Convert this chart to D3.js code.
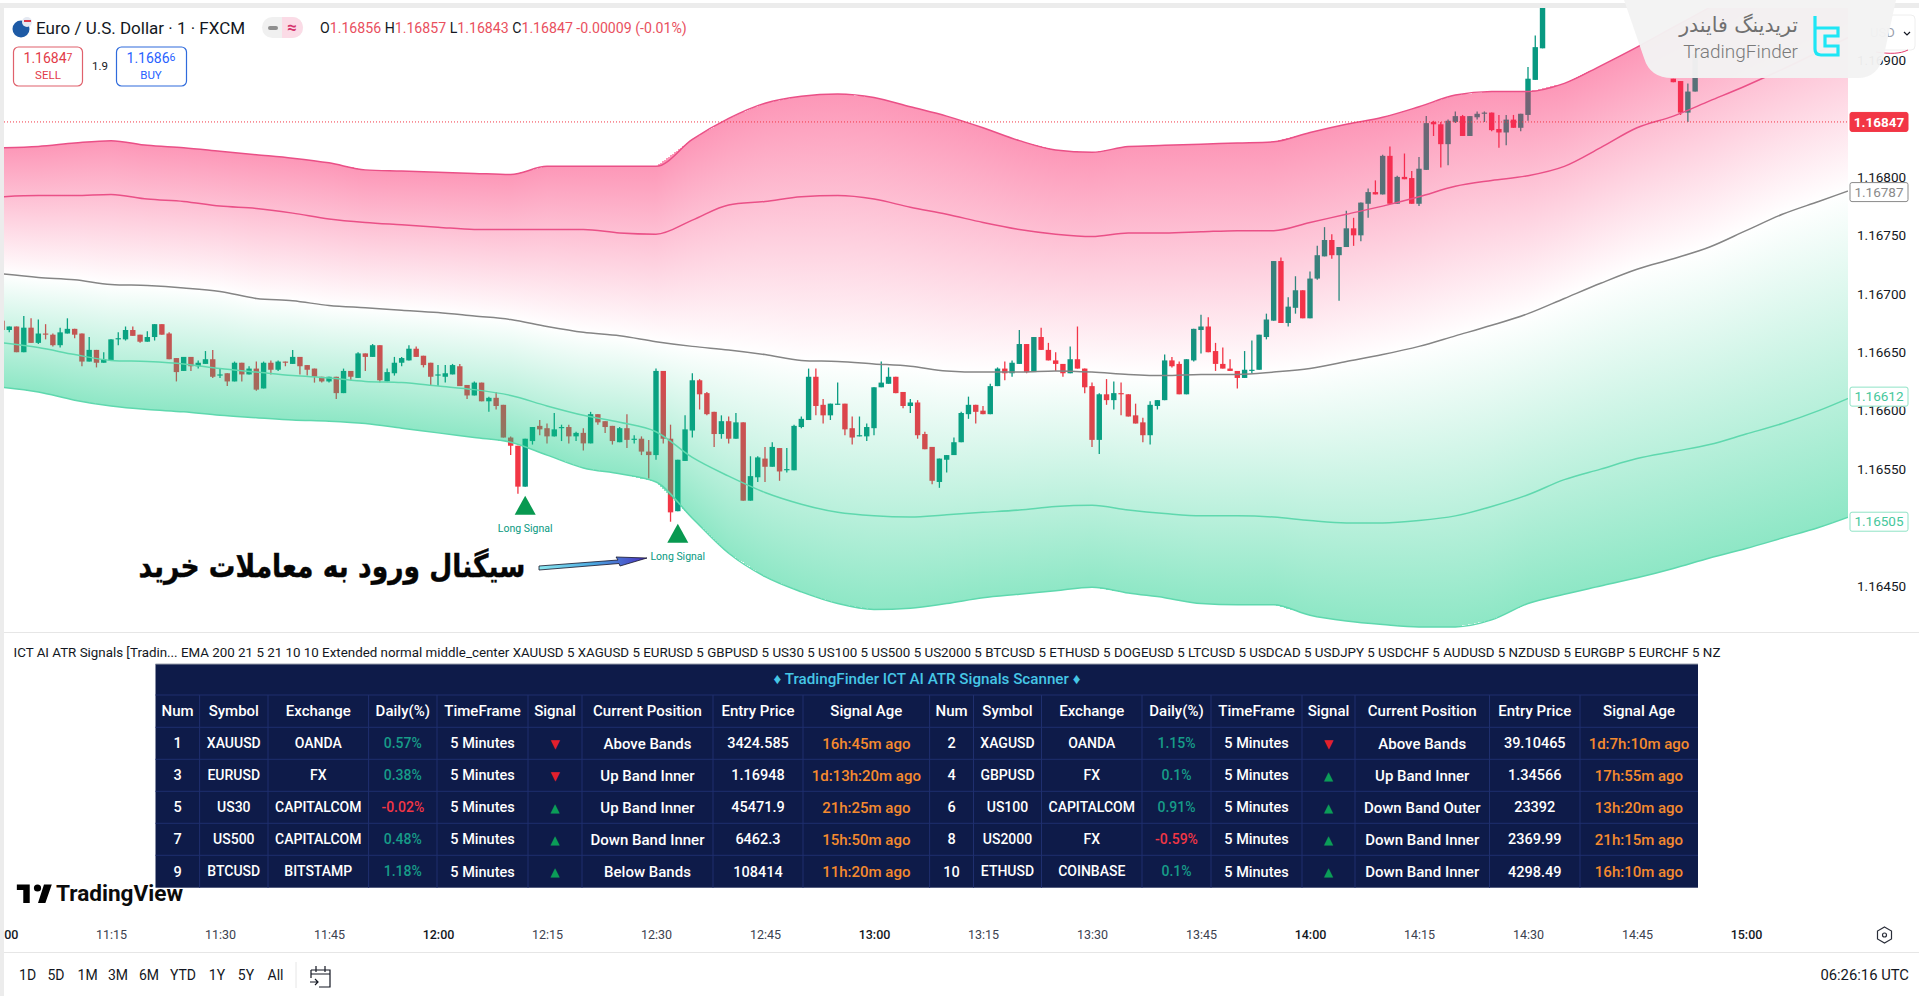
<!DOCTYPE html>
<html lang="en">
<head>
<meta charset="UTF-8" />
<title>EURUSD ICT AI ATR Signals</title>
<script src="https://d3js.org/d3.v7.min.js"></script>
<style>
  html, body { margin: 0; background: #fff; overflow: hidden; }
  svg { display: block; }
  text { font-family: Roboto, sans-serif; fill: #131722; }
</style>
</head>
<body>
<svg id="chart" width="1919" height="996"></svg>
<script>
// prices are stored in 1/100000 above 1 (16847 -> 1.16847), first bar is 11:00, one bar per minute
// null = bar sits off the top of the chart or behind the watermark
const H = Array(17).fill(null);
const opens = [
  16677,16669,16672,16650,16671,16658,16666,16665,16656,16666,
  16670,16666,16642,16652,16641,16643,16661,16661,16669,16665,
  16659,16663,16674,16666,16645,16634,16646,16638,16640,16644,
  16630,16632,16625,16641,16631,16636,16619,16641,16635,16642,
  16640,16646,16639,16636,16629,16625,16629,16615,16634,16628,
  16649,16646,16656,16625,16632,16641,16643,16653,16647,16641,
  16630,16629,16631,16638,16622,16613,16624,16608,16611,16605,
  16577,16570,16535,16574,16587,16585,16578,16585,16586,16578,
  16581,16572,16597,16591,16587,16573,16585,16575,16576,16565,
  16562,16634,16576,16514,16557,16583,16626,16615,16599,16580,
  16591,16576,16590,16523,16543,16559,16552,16568,16549,16549,
  16586,16592,16629,16605,16596,16605,16606,16585,16578,16578,
  16585,16620,16623,16629,16616,16604,16607,16580,16569,16539,
  16558,16562,16573,16597,16605,16600,16597,16621,16636,16632,
  16640,16657,16633,16663,16652,16643,16640,16632,16644,16636,
  16621,16575,16614,16609,16615,16614,16596,16590,16579,16604,
  16609,16643,16640,16614,16643,16669,16672,16651,16640,16636,
  16634,16628,16634,16635,16663,16677,16728,16675,16688,16703,
  16679,16713,16732,16746,16733,16740,16756,16750,16777,16787,
  16785,16818,16777,16800,16799,16777,16806,16847,16845,16828,
  16847,16852,16835,16851,16854,16855,16841,16838,16849,16842,
  16853,16883,16910, ...H, 16884,16882,16855,16873];
const highs = [
  16677,16672,16672,16681,16679,16678,16674,16666,16671,16679,
  16670,16666,16663,16652,16650,16661,16667,16672,16672,16665,
  16668,16674,16674,16667,16645,16646,16646,16643,16651,16652,
  16636,16632,16642,16641,16638,16642,16642,16643,16643,16642,
  16652,16646,16639,16636,16629,16629,16629,16636,16634,16650,
  16649,16657,16656,16636,16646,16646,16656,16655,16647,16641,
  16639,16639,16640,16640,16622,16625,16624,16612,16616,16605,
  16578,16570,16576,16586,16592,16589,16598,16588,16588,16582,
  16585,16599,16597,16591,16587,16586,16597,16579,16578,16575,
  16636,16634,16588,16558,16596,16632,16627,16616,16599,16596,
  16595,16598,16590,16561,16561,16569,16573,16568,16568,16588,
  16595,16636,16636,16610,16606,16624,16606,16595,16595,16589,
  16620,16642,16637,16629,16616,16610,16609,16582,16569,16559,
  16562,16577,16599,16612,16605,16604,16623,16637,16642,16643,
  16669,16657,16663,16671,16658,16650,16640,16655,16672,16636,
  16624,16615,16627,16625,16624,16614,16606,16594,16608,16609,
  16648,16646,16642,16644,16670,16682,16680,16658,16654,16644,
  16634,16651,16660,16665,16683,16728,16731,16697,16715,16703,
  16719,16741,16757,16751,16740,16771,16765,16778,16790,16797,
  16819,16826,16801,16820,16805,16817,16852,16848,16847,16849,
  16856,16853,16852,16856,16856,16855,16853,16853,16853,16854,
  16894,16921,16960, ...H, 16884,16882,16880,16905];
const lows = [
  16669,16667,16650,16650,16658,16657,16661,16655,16654,16666,
  16662,16638,16642,16637,16641,16643,16656,16660,16664,16658,
  16659,16660,16665,16644,16625,16634,16634,16636,16640,16628,
  16628,16621,16625,16625,16631,16617,16619,16631,16634,16638,
  16640,16631,16630,16624,16624,16624,16610,16615,16626,16628,
  16634,16646,16624,16625,16630,16638,16643,16646,16637,16622,
  16621,16624,16631,16621,16610,16613,16608,16599,16601,16577,
  16562,16529,16535,16571,16579,16572,16578,16574,16572,16574,
  16566,16572,16588,16581,16571,16573,16568,16572,16562,16542,
  16558,16572,16505,16514,16557,16577,16601,16596,16569,16576,
  16572,16576,16523,16523,16539,16539,16552,16540,16547,16549,
  16585,16592,16596,16589,16592,16605,16579,16571,16578,16574,
  16579,16620,16623,16615,16602,16598,16576,16567,16537,16534,
  16547,16562,16573,16593,16589,16597,16597,16621,16626,16629,
  16640,16632,16633,16652,16643,16634,16629,16632,16636,16615,
  16569,16563,16605,16601,16596,16595,16589,16573,16571,16601,
  16609,16637,16614,16614,16642,16649,16650,16634,16636,16634,
  16619,16628,16632,16635,16661,16677,16675,16672,16683,16679,
  16679,16712,16732,16730,16694,16740,16741,16745,16765,16785,
  16785,16777,16777,16798,16777,16775,16806,16835,16808,16810,
  16846,16835,16835,16849,16847,16839,16825,16827,16842,16839,
  16848,16883,16910, ...H, 16881,16853,16847,16873];
const closes = [
  16669,16672,16650,16671,16658,16666,16665,16656,16667,16670,
  16665,16642,16652,16641,16644,16661,16662,16669,16664,16659,
  16663,16674,16665,16644,16633,16646,16638,16641,16644,16629,
  16631,16625,16641,16631,16636,16618,16641,16635,16642,16641,
  16646,16638,16635,16629,16625,16629,16615,16634,16629,16649,
  16646,16656,16626,16633,16641,16645,16653,16646,16639,16629,
  16631,16632,16639,16621,16613,16624,16608,16611,16604,16577,
  16570,16535,16576,16586,16584,16578,16584,16586,16578,16581,
  16572,16597,16590,16586,16574,16585,16575,16576,16565,16562,
  16634,16576,16513,16558,16584,16626,16614,16597,16580,16591,
  16576,16590,16523,16544,16560,16552,16569,16548,16550,16587,
  16593,16629,16604,16596,16606,16606,16584,16577,16579,16586,
  16620,16624,16629,16615,16604,16607,16579,16567,16540,16559,
  16562,16573,16598,16605,16599,16597,16621,16636,16632,16641,
  16657,16633,16663,16652,16643,16640,16632,16644,16636,16620,
  16575,16614,16609,16615,16614,16595,16589,16579,16605,16609,
  16643,16638,16614,16644,16670,16672,16650,16640,16636,16634,
  16628,16635,16635,16665,16678,16728,16675,16689,16703,16679,
  16713,16733,16746,16733,16740,16756,16750,16778,16787,16785,
  16818,16777,16800,16798,16777,16807,16846,16845,16828,16848,
  16852,16835,16852,16854,16855,16840,16838,16849,16842,16854,
  16884,16911,16960, ...H, 16881,16855,16873,16905];

// ATR bands and EMA, one reading every 5 minutes from 11:00 to 15:15
const upperOuter = [16825,16826,16829,16831,16827,16825,16822,16819,16816,16812,16806,16805,16804,16803,16802,16809,16809,16809,16809,16832,16850,16863,16869,16871,16868,16860,16852,16842,16831,16823,16821,16826,16827,16828,16829,16830,16838,16845,16851,16860,16870,16873,16873,16880,16895,16911,16928,16945,16962,16977,16993,17007];
const upperInner = [16783,16784,16784,16785,16781,16779,16775,16773,16769,16764,16761,16759,16757,16755,16755,16755,16755,16752,16751,16763,16776,16779,16783,16784,16781,16774,16768,16761,16755,16751,16749,16752,16752,16753,16754,16754,16761,16768,16775,16783,16792,16797,16801,16809,16825,16842,16852,16865,16878,16892,16907,16922];
const emaLine = [16717,16714,16712,16708,16707,16705,16702,16696,16694,16690,16688,16686,16684,16681,16678,16672,16667,16664,16659,16655,16652,16648,16643,16642,16640,16638,16634,16633,16633,16634,16633,16631,16630,16631,16631,16633,16636,16642,16648,16655,16664,16673,16683,16696,16709,16721,16730,16740,16754,16768,16779,16790];
const lowerInner = [16658,16654,16648,16643,16642,16640,16636,16633,16630,16628,16625,16624,16621,16618,16613,16604,16596,16590,16582,16560,16544,16530,16520,16513,16510,16509,16511,16513,16515,16518,16519,16515,16512,16510,16510,16509,16506,16504,16504,16506,16510,16518,16528,16541,16550,16559,16565,16571,16580,16589,16600,16613];
const lowerOuter = [16620,16616,16609,16604,16601,16599,16596,16594,16592,16591,16589,16585,16581,16577,16573,16562,16551,16546,16539,16508,16478,16458,16445,16435,16430,16431,16435,16440,16443,16446,16449,16444,16440,16435,16434,16434,16425,16420,16417,16415,16415,16421,16435,16443,16450,16457,16465,16474,16482,16491,16500,16511];

const priceTicks = [1.169, 1.168, 1.1675, 1.167, 1.1665, 1.166, 1.1655, 1.1645];
const timeLabels = ['11:00','11:15','11:30','11:45','12:00','12:15','12:30','12:45','13:00','13:15','13:30','13:45','14:00','14:15','14:30','14:45','15:00'];
const signalBars = [72, 93];            // bar index of the two long signals
const rangeButtons = ['1D','5D','1M','3M','6M','YTD','1Y','5Y','All'];

// scanner table, numbered 1..10
const tableHeads = ['Num','Symbol','Exchange','Daily(%)','TimeFrame','Signal','Current Position','Entry Price','Signal Age'];
const symbols = ['XAUUSD','XAGUSD','EURUSD','GBPUSD','US30','US100','US500','US2000','BTCUSD','ETHUSD'];
const exchanges = ['OANDA','OANDA','FX','FX','CAPITALCOM','CAPITALCOM','CAPITALCOM','FX','BITSTAMP','COINBASE'];
const daily = ['0.57%','1.15%','0.38%','0.1%','-0.02%','0.91%','0.48%','-0.59%','1.18%','0.1%'];
const signals = ['▼','▼','▼','▲','▲','▲','▲','▲','▲','▲'];
const positions = ['Above Bands','Above Bands','Up Band Inner','Up Band Inner','Up Band Inner','Down Band Outer','Down Band Inner','Down Band Inner','Below Bands','Down Band Inner'];
const entryPrices = ['3424.585','39.10465','1.16948','1.34566','45471.9','23392','6462.3','2369.99','108414','4298.49'];
const signalAges = ['16h:45m ago','1d:7h:10m ago','1d:13h:20m ago','17h:55m ago','21h:25m ago','13h:20m ago','15h:50m ago','21h:15m ago','11h:20m ago','16h:10m ago'];

const UP = '#089981', DOWN = '#f23645';
const svg = d3.select('#chart');
const defs = svg.append('defs');
const pt = v => 1 + v / 1e5;
const minuteOf = s => +s.slice(0, 2) * 60 + +s.slice(3);

const x = d3.scaleLinear().domain([675, 900]).range([111, 1746]);
const y = d3.scaleLinear().domain([1.169, 1.1645]).range([60, 586]);
const barX = i => x(660 + i);
const bandX = d3.range(upperOuter.length).map(i => 660 + i * 5);

defs.append('clipPath').attr('id', 'plot').append('rect')
  .attr('x', 4).attr('y', 8).attr('width', 1844).attr('height', 624);

function grad(id, stops) {
  const g = defs.append('linearGradient').attr('id', id).attr('x1', 0).attr('x2', 0).attr('y1', 0).attr('y2', 1);
  stops.forEach(s => g.append('stop').attr('offset', s[0]).attr('stop-color', s[1]).attr('stop-opacity', s[2]));
}
grad('pinkFill', [[0, 'rgb(250,30,100)', 0.46], [1, 'rgb(250,30,100)', 0]]);
grad('greenFill', [[0, 'rgb(15,204,133)', 0], [1, 'rgb(15,204,133)', 0.47]]);

const plot = svg.append('g').attr('clip-path', 'url(#plot)');

// candles go under the band fill, that is why they change tint in the zones
const bars = d3.range(opens.length).filter(i => opens[i] !== null);
const color = i => closes[i] >= opens[i] ? UP : DOWN;
plot.append('g').selectAll('line').data(bars).enter().append('line')
  .attr('x1', i => barX(i)).attr('x2', i => barX(i))
  .attr('y1', i => y(pt(highs[i]))).attr('y2', i => y(pt(lows[i])))
  .attr('stroke', color).attr('stroke-width', 1.3);
plot.append('g').selectAll('rect').data(bars).enter().append('rect')
  .attr('x', i => barX(i) - 2.7).attr('width', 5.4)
  .attr('y', i => y(pt(Math.max(opens[i], closes[i]))))
  .attr('height', i => Math.max(1, Math.abs(y(pt(opens[i])) - y(pt(closes[i])))))
  .attr('fill', color);

// gradient runs from band to ema per column, so it gets cut into thin slices
const at = arr => d3.scaleLinear().domain(bandX).range(arr);
const slicePx = d3.range(4, 1848, 2);
function slices(topArr, botArr, fill) {
  const top = at(topArr), bot = at(botArr);
  plot.append('g').attr('shape-rendering', 'crispEdges').selectAll('rect').data(slicePx).enter().append('rect')
    .attr('x', d => d).attr('width', 2)
    .attr('y', d => y(pt(top(x.invert(d + 1)))))
    .attr('height', d => y(pt(bot(x.invert(d + 1)))) - y(pt(top(x.invert(d + 1)))))
    .attr('fill', fill);
}
slices(upperOuter, emaLine, 'url(#pinkFill)');
slices(emaLine, lowerOuter, 'url(#greenFill)');

const bandLine = d3.line().x((d, i) => x(bandX[i])).y(d => y(pt(d))).curve(d3.curveMonotoneX);
[[upperOuter, '#ea5087'], [upperInner, '#ea5087'], [emaLine, '#858585'], [lowerInner, '#5fd8ae'], [lowerOuter, '#5fd8ae']].forEach(b => {
  plot.append('path').attr('d', bandLine(b[0])).attr('fill', 'none').attr('stroke', b[1]).attr('stroke-width', 1.5);
});

// last price line
plot.append('line').attr('x1', 4).attr('x2', 1848).attr('y1', y(1.16847)).attr('y2', y(1.16847))
  .attr('stroke', DOWN).attr('stroke-width', 1).attr('stroke-dasharray', '1 2');

// long signals, placed under the low of the bar before
signalBars.forEach(b => {
  const cx = barX(b);
  const top = y(pt(lows[b - 1])) + 2;
  plot.append('path').attr('d', `M${cx},${top} L${cx + 10.5},${top + 19} L${cx - 10.5},${top + 19} Z`).attr('fill', '#089950');
  plot.append('text').attr('x', cx).attr('y', top + 36).attr('text-anchor', 'middle')
    .attr('font-size', 10.5).style('fill', '#089981').text('Long Signal');
});

// price axis
const priceAxis = svg.append('g').attr('transform', 'translate(1855,0)')
  .call(d3.axisRight(y).tickValues(priceTicks).tickSize(0).tickPadding(2).tickFormat(d3.format('.5f')));
priceAxis.select('.domain').remove();
priceAxis.selectAll('text').attr('font-family', 'Roboto').attr('font-size', 13.5).style('fill', '#131722');

function priceTag(v, fill, stroke, txt, bold) {
  const g = svg.append('g');
  g.append('rect').attr('x', 1850).attr('y', y(v) - 9.5).attr('width', 58).attr('height', 19).attr('rx', 2)
    .attr('fill', fill).attr('stroke', stroke);
  g.append('text').attr('x', 1879).attr('y', y(v)).attr('dy', '0.35em').attr('text-anchor', 'middle')
    .attr('font-size', 13.5).attr('font-weight', bold ? 700 : 400).style('fill', txt).text(v.toFixed(5));
}
priceTag(1.16847, DOWN, DOWN, '#fff', true);
priceTag(1.16787, '#fff', '#8a8a8a', '#8a8a8a');
priceTag(1.16612, '#fff', '#8fe3c6', '#45c79b');
priceTag(1.16505, '#fff', '#8fe3c6', '#45c79b');

// time axis
const timeAxis = svg.append('g').attr('transform', 'translate(0,928)')
  .call(d3.axisBottom(x).tickValues(timeLabels.map(minuteOf)).tickSize(0).tickPadding(2)
    .tickFormat(m => timeLabels[(m - 660) / 15]));
timeAxis.select('.domain').remove();
timeAxis.selectAll('text').attr('font-family', 'Roboto').attr('font-size', 12.5)
  .attr('font-weight', m => m % 60 === 0 ? 500 : 400)
  .style('fill', m => m % 60 === 0 ? '#131722' : '#3c4150');

// frame
svg.append('rect').attr('x', 0).attr('y', 3).attr('width', 1919).attr('height', 5).attr('fill', '#ececec');
svg.append('rect').attr('x', 0).attr('y', 3).attr('width', 4).attr('height', 993).attr('fill', '#ececec');
svg.append('line').attr('x1', 4).attr('x2', 1919).attr('y1', 632.5).attr('y2', 632.5).attr('stroke', '#e6e6e6');
svg.append('line').attr('x1', 4).attr('x2', 1919).attr('y1', 952.5).attr('y2', 952.5).attr('stroke', '#e6e6e6');

function label(px, py, str, size, fill, anchor, weight) {
  return svg.append('text').attr('x', px).attr('y', py).attr('dy', '0.35em')
    .attr('text-anchor', anchor || 'start').attr('font-size', size)
    .attr('font-weight', weight || 400).style('fill', fill || '#131722').text(str);
}

// chart header
svg.append('circle').attr('cx', 21).attr('cy', 29).attr('r', 8.5).attr('fill', '#1d5aa5');
svg.append('circle').attr('cx', 27).attr('cy', 22).attr('r', 5).attr('fill', '#e5e9f2');
svg.append('rect').attr('x', 24).attr('y', 20).attr('width', 7).attr('height', 2).attr('fill', '#d8384a');
label(36, 28, 'Euro / U.S. Dollar · 1 · FXCM', 17);
svg.append('rect').attr('x', 262).attr('y', 17).attr('width', 41).attr('height', 21).attr('rx', 10.5).attr('fill', '#f0f0f0');
svg.append('path').attr('d', 'M282,17 h10.5 a10.5,10.5 0 0 1 0,21 h-10.5 z').attr('fill', '#fbdbe6');
svg.append('rect').attr('x', 268).attr('y', 26).attr('width', 10).attr('height', 4).attr('rx', 2).attr('fill', '#8f8f8f');
label(292, 27, '≈', 17, '#d6336c', 'middle', 700);

const ohlc = svg.append('text').attr('x', 320).attr('y', 28).attr('dy', '0.35em').attr('font-size', 14.15);
[['O', 1], ['1.16856 ', 0], ['H', 1], ['1.16857 ', 0], ['L', 1], ['1.16843 ', 0], ['C', 1], ['1.16847 -0.00009 (-0.01%)', 0]].forEach(p => {
  ohlc.append('tspan').style('fill', p[1] ? '#131722' : '#e9505e').text(p[0]);
});

// sell / buy, the last digit of the quote is printed small and raised
function quote(cx, big, small, fill) {
  const t = label(cx, 58, null, 14, fill, 'middle');
  t.append('tspan').text(big);
  t.append('tspan').attr('font-size', 10.5).attr('dy', -2).text(small);
}
svg.append('rect').attr('x', 13.5).attr('y', 47).attr('width', 69).attr('height', 39).attr('rx', 5).attr('fill', '#fff').attr('stroke', '#e0616c').attr('stroke-width', 1.2);
quote(48, '1.1684', '7', '#e23b49');
label(48, 75, 'SELL', 11.5, '#e23b49', 'middle');
label(100, 66, '1.9', 11.5, '#131722', 'middle');
svg.append('rect').attr('x', 116.5).attr('y', 47).attr('width', 70).attr('height', 39).attr('rx', 5).attr('fill', '#fff').attr('stroke', '#2f6bdc').attr('stroke-width', 1.2);
quote(151, '1.1686', '6', '#2962ff');
label(151, 75, 'BUY', 11.5, '#2962ff', 'middle');

// persian caption with arrow
const arrowGrad = defs.append('linearGradient').attr('id', 'arrowBody').attr('x1', 0).attr('x2', 1).attr('y1', 0).attr('y2', 0);
arrowGrad.append('stop').attr('offset', 0).attr('stop-color', '#8be8f0');
arrowGrad.append('stop').attr('offset', 0.5).attr('stop-color', '#4aa8e0');
arrowGrad.append('stop').attr('offset', 1).attr('stop-color', '#4a2fc0');
svg.append('path').attr('d', 'M539,566 L618,560 L616,557 L647,558 L620,566 L619,563.5 L539,570 Z')
  .attr('fill', 'url(#arrowBody)').attr('stroke', '#15152a').attr('stroke-width', 0.8);
svg.append('text').attr('transform', 'translate(332,566) scale(0.885,1.05)').attr('dy', '0.35em').attr('text-anchor', 'middle')
  .attr('direction', 'rtl').style('font-family', '"DejaVu Sans"').attr('font-weight', 700)
  .attr('font-size', 30).style('fill', '#050505').style('stroke', '#050505').style('stroke-width', 0.4)
  .text('سیگنال ورود به معاملات خرید');

// indicator status line
label(13.5, 652, 'ICT AI ATR Signals [Tradin... EMA 200 21 5 21 10 10 Extended normal middle_center XAUUSD 5 XAGUSD 5 EURUSD 5 GBPUSD 5 US30 5 US100 5 US500 5 US2000 5 BTCUSD 5 ETHUSD 5 DOGEUSD 5 LTCUSD 5 USDCAD 5 USDJPY 5 USDCHF 5 AUDUSD 5 NZDUSD 5 EURGBP 5 EURCHF 5 NZ', 13.35);

// scanner table
const colEdges = [155.5, 199.6, 268, 368.6, 437, 528, 582, 713, 803, 929.6, 973.5, 1041.5, 1142, 1211, 1302, 1355, 1489.5, 1580, 1698];
const rowEdges = [695, 727.3, 759.3, 791.3, 823.3, 855.3, 887.7];
const tableG = svg.append('g');
tableG.append('rect').attr('x', 155.5).attr('y', 664).attr('width', 1542.5).attr('height', 223.7).attr('fill', '#0e1b49');
tableG.append('line').attr('x1', 155.5).attr('x2', 1698).attr('y1', 664).attr('y2', 664).attr('stroke', '#9aa0ac').attr('stroke-width', 1);
tableG.selectAll('.hl').data(rowEdges.slice(0, -1)).enter().append('line')
  .attr('x1', 155.5).attr('x2', 1698).attr('y1', d => d).attr('y2', d => d).attr('stroke', '#1f2f6e');
tableG.selectAll('.vl').data(colEdges.slice(1, -1)).enter().append('line')
  .attr('x1', d => d).attr('x2', d => d).attr('y1', 695).attr('y2', 887.7).attr('stroke', '#1f2f6e');

label(927, 679, '♦ TradingFinder ICT AI ATR Signals Scanner ♦', 15.2, '#46c6e6', 'middle', 500);

const midX = i => (colEdges[i] + colEdges[i + 1]) / 2;
[0, 9].forEach(start => tableHeads.forEach((h, c) => {
  label(midX(start + c), 711, h, 15, '#fff', 'middle', 500);
}));
symbols.forEach((s, n) => {
  const start = n % 2 ? 9 : 0;
  const row = Math.floor(n / 2);
  const ry = (rowEdges[row + 1] + rowEdges[row + 2]) / 2;
  const neg = daily[n][0] === '-';
  label(midX(start), ry, n + 1, 14.5, '#fff', 'middle', 500);
  label(midX(start + 1), ry, s, 14, '#fff', 'middle', 500);
  label(midX(start + 2), ry, exchanges[n], 14, '#fff', 'middle', 500);
  label(midX(start + 3), ry, daily[n], 14, neg ? '#f23645' : '#179c88', 'middle', 500);
  label(midX(start + 4), ry, '5 Minutes', 14.5, '#fff', 'middle', 500);
  label(midX(start + 5), ry, signals[n], 12, signals[n] === '▲' ? '#0b9d58' : '#e3202c', 'middle').style('font-family', '"DejaVu Sans"');
  label(midX(start + 6), ry, positions[n], 15, '#fff', 'middle', 500);
  label(midX(start + 7), ry, entryPrices[n], 14.5, '#fff', 'middle', 500);
  label(midX(start + 8), ry, signalAges[n], 15, '#f58a2e', 'middle', 500);
});

// tradingview logo sits over the table corner
svg.append('path').attr('transform', 'translate(15,879) scale(0.92)')
  .attr('d', 'M16 6H2v6h7v14h7V6z M33 26h-8l6.5-20H40l-7 20z').attr('fill', '#000');
svg.append('circle').attr('cx', 37.5).attr('cy', 888).attr('r', 3.6).attr('fill', '#000');
label(56, 893, 'TradingView', 22.6, '#0b0b0b', 'start', 700);

// bottom bar
const rangeX = [27.6, 56, 87.6, 118, 149, 183, 217, 246, 275.5];
rangeButtons.forEach((b, i) => label(rangeX[i], 975, b, 14, '#131722', 'middle'));
svg.append('line').attr('x1', 296).attr('x2', 296).attr('y1', 962).attr('y2', 988).attr('stroke', '#e6e6e6');
svg.append('path').attr('d', 'M311,970 h19 v17 h-11 M311,970 v8 M316,966 v6 M325,966 v6 M311,974 h19 M310,982 h8 M315,979 l3,3 l-3,3')
  .attr('fill', 'none').attr('stroke', '#131722').attr('stroke-width', 1.2);
label(1909, 975, '06:26:16 UTC', 14.8, '#131722', 'end');
svg.append('path').attr('d', 'M1884.5,927 L1891.5,931 L1891.5,939 L1884.5,943 L1877.5,939 L1877.5,931 Z').attr('fill', 'none').attr('stroke', '#2a2e39').attr('stroke-width', 1.2);
svg.append('circle').attr('cx', 1884.5).attr('cy', 935).attr('r', 2).attr('fill', 'none').attr('stroke', '#2a2e39').attr('stroke-width', 1.2);

// currency dropdown behind the watermark
svg.append('rect').attr('x', 1850).attr('y', 15).attr('width', 65).attr('height', 35).attr('rx', 4).attr('fill', '#fff').attr('stroke', '#eeeeee');
label(1870, 32, 'USD', 13, '#9aa0ac');
svg.append('path').attr('d', 'M1904,32 l3,3 l3,-3').attr('fill', 'none').attr('stroke', '#131722').attr('stroke-width', 1.2);
svg.append('path').attr('d', 'M1876,52 C1890,54 1900,54 1908,50').attr('fill', 'none').attr('stroke', '#e6386c').attr('stroke-width', 1);

// watermark
svg.append('path').attr('d', 'M1624,0 L1896,0 L1884,55 Q1878,78 1858,78 L1672,78 Q1650,78 1644,58 Z')
  .attr('fill', '#f3f3f3').attr('fill-opacity', 0.96);
svg.append('text').attr('transform', 'translate(1798,25)').attr('dy', '0.35em').attr('text-anchor', 'end')
  .style('font-family', '"DejaVu Sans"').attr('font-size', 20.5).style('fill', '#707070').text('تریدینگ فایندر');
label(1798, 51, 'TradingFinder', 19, '#7a7a7a', 'end', 300);
svg.append('path').attr('d', 'M1815,16 V49 Q1815,55 1821,55 H1838 V46 H1825 V36 H1838 V28 H1815')
  .attr('fill', 'none').attr('stroke', '#1ee6f5').attr('stroke-width', 3.2);
</script>
</body>
</html>
